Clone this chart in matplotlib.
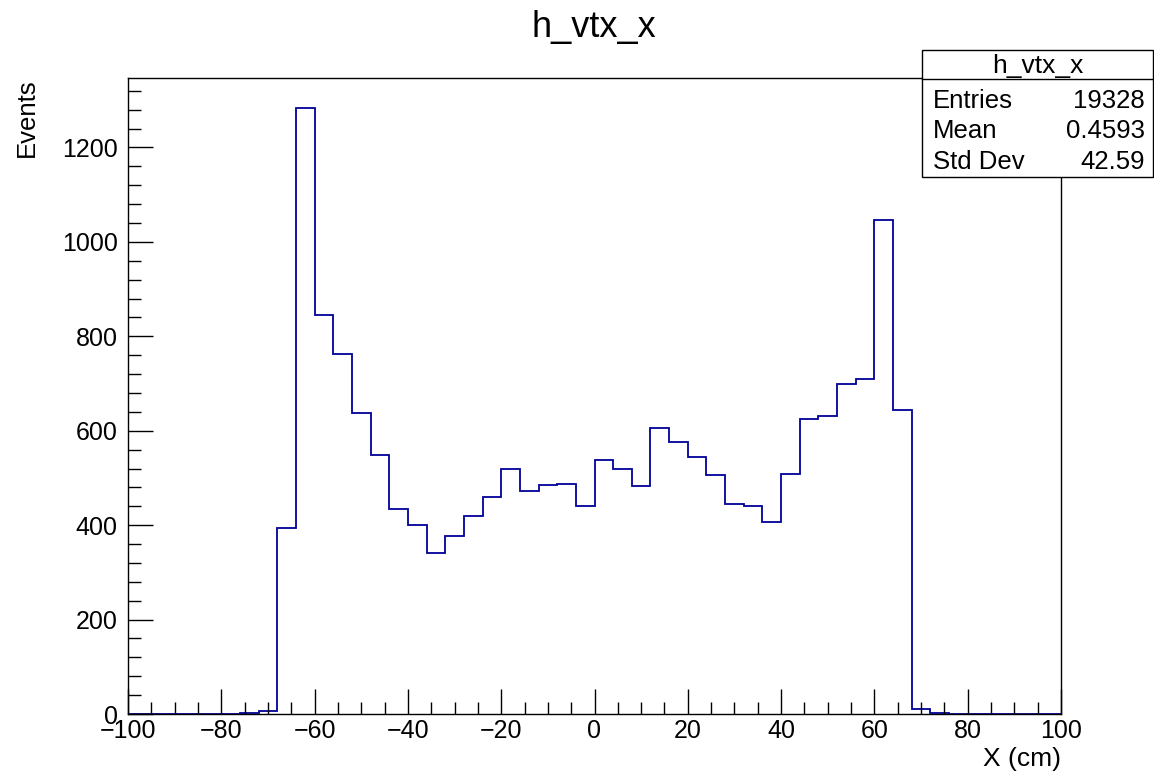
import numpy as np
import matplotlib
matplotlib.use("Agg")
import matplotlib.pyplot as plt
from matplotlib.ticker import MultipleLocator
from matplotlib.patches import Rectangle
from matplotlib.lines import Line2D

plt.rcParams['font.family'] = ['Liberation Sans', 'DejaVu Sans']

# Histogram: 50 bins of width 4 from -100 to 100
bin_edges = np.linspace(-100, 100, 51)
counts = [0, 0, 1, 0, 1, 1, 3, 7,
          393, 1283, 846, 763, 637, 549, 435, 400, 341, 376, 420, 459,
          518, 472, 484, 487, 441, 539, 520, 482, 606, 577, 545, 507,
          444, 441, 407, 509, 624, 632, 700, 709, 1047, 643,
          11, 3, 1, 1, 0, 1, 0, 0]

title = "h_vtx_x"
x_label = "X (cm)"
y_label = "Events"
stats_rows = [("Entries", "19328"), ("Mean", "0.4593"), ("Std Dev", "42.59")]

W, H = 1154, 779
fig = plt.figure(figsize=(W / 100, H / 100), dpi=100)
L, R, T, B = 128, 1061, 78, 714
ax = fig.add_axes([L / W, 1 - B / H, (R - L) / W, (B - T) / H])

ax.stairs(counts, bin_edges, color='#000099', linewidth=1.3)
ax.set_xlim(-100, 100)
ax.set_ylim(0, 1.05 * max(counts))

ax.xaxis.set_major_locator(MultipleLocator(20))
ax.xaxis.set_minor_locator(MultipleLocator(5))
ax.yaxis.set_major_locator(MultipleLocator(200))
ax.yaxis.set_minor_locator(MultipleLocator(40))
ax.tick_params(which='both', direction='in', top=False, right=False,
               labelsize=18, color='black', width=1)
ax.tick_params(which='major', length=18)
ax.tick_params(which='minor', length=9)
ax.tick_params(axis='x', which='major', pad=3.5)
ax.tick_params(axis='y', which='major', pad=7.5)
for s in ax.spines.values():
    s.set_linewidth(1)

ax.set_xlabel(x_label, fontsize=19, loc='right')
ax.xaxis.label.set_va('baseline')
ax.xaxis.set_label_coords(1.0, -(766 - B) / (B - T))
ax.set_ylabel(y_label, fontsize=18.5, loc='top')
ax.yaxis.set_label_coords((39 - L) / (R - L), 1.0)

fig.text(594 / W, 1 - 37 / H, title, fontsize=26, ha='center', va='baseline')

# Stats box
bx0, bx1, by0, by1 = 922, 1153, 50, 177
fig.patches.append(Rectangle((bx0 / W, 1 - by1 / H), (bx1 - bx0) / W, (by1 - by0) / H,
                             transform=fig.transFigure, facecolor='white',
                             edgecolor='black', linewidth=1, zorder=5))
fig.lines.append(Line2D([bx0 / W, bx1 / W], [1 - 78.5 / H, 1 - 78.5 / H],
                        transform=fig.transFigure, color='black', linewidth=1, zorder=6))
fig.text((bx0 + bx1) / 2 / W + 0.5 / W, 1 - 73.5 / H, title, fontsize=19, ha='center',
         va='baseline', zorder=7)
row_y = [108, 138.5, 169]
for (k, v), yy in zip(stats_rows, row_y):
    fig.text(933 / W, 1 - yy / H, k, fontsize=18.5, ha='left', va='baseline', zorder=7)
    fig.text(1145 / W, 1 - yy / H, v, fontsize=18.5, ha='right', va='baseline', zorder=7)

fig.savefig("out.png", dpi=100)
